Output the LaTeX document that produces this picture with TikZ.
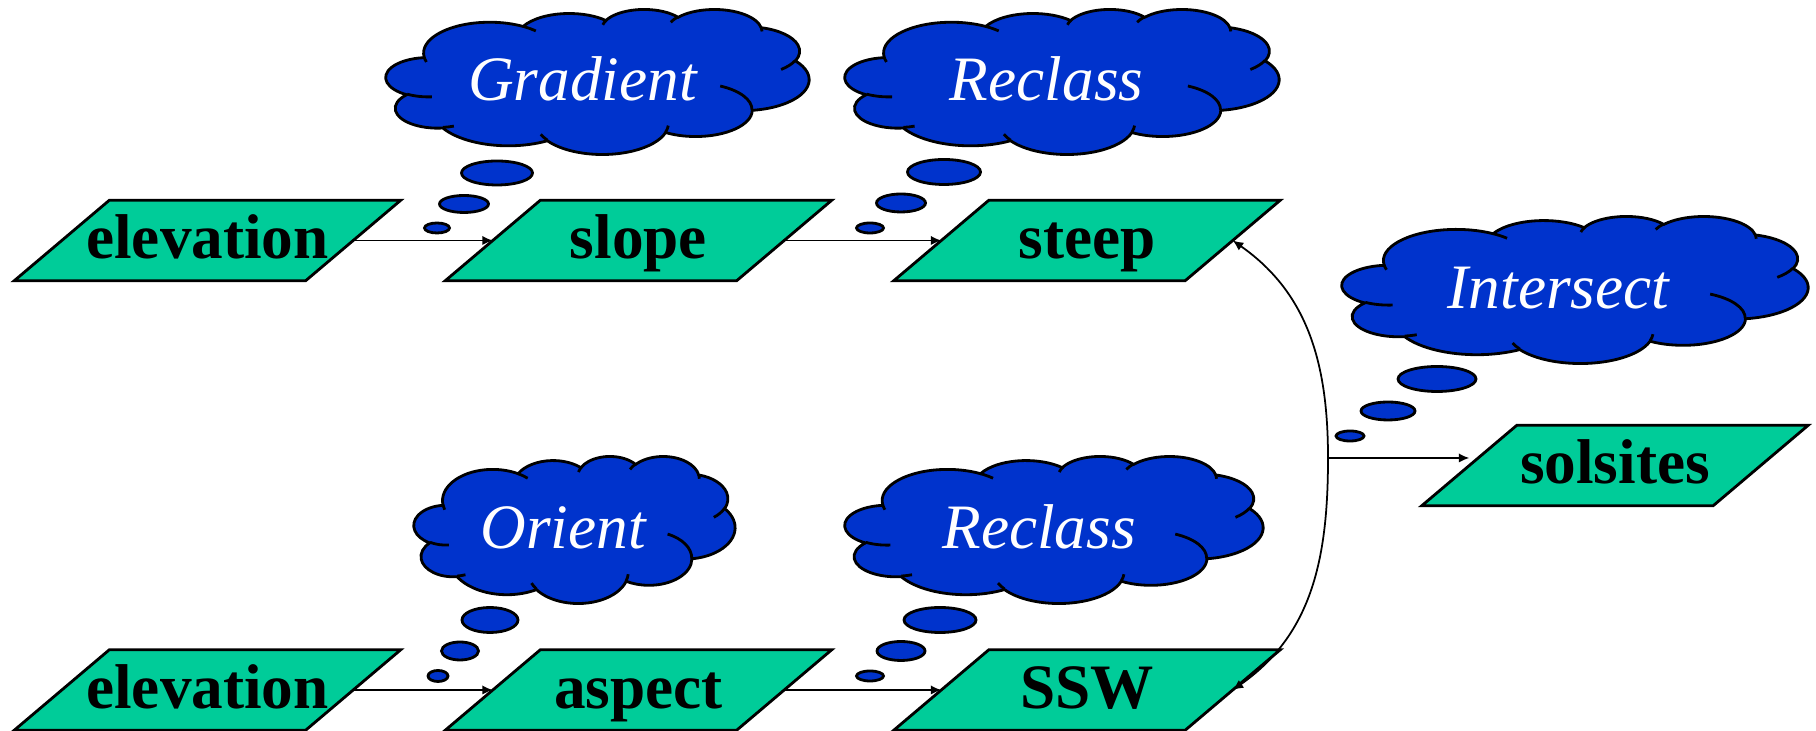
\documentclass[tikz,border=0pt]{standalone}
\usepackage{fontspec}
\setmainfont{Liberation Serif}
\usetikzlibrary{arrows.meta,backgrounds,calc}
\definecolor{vertcouche}{RGB}{0,204,153}
\definecolor{bleunuage}{RGB}{0,51,204}

% arc d'ellipse donne par angles visuels (rx, ry, depart, balayage)
\tikzset{
	arcoo/.style n args={4}{insert path={arc[x radius=#1,y radius=#2,
		start angle={atan2(#1*sin(#3),#2*cos(#3))},
		delta angle={mod(atan2(#1*sin(#3+#4),#2*cos(#3+#4))-atan2(#1*sin(#3),#2*cos(#3))+720,360)}]}},
	pics/nuage/.style n args={3}{code={
		\begin{scope}[shift={({-#1/2},{#2/2})},x={#1cm/432},y={-#2cm/432}]
			\draw[line width=0.8pt,fill=bleunuage] (39.00,143.70)
				[arcoo={67.53}{91.90}{-190.48748}{123.78053}]
				[arcoo={53.33}{72.67}{-144.10238}{89.94523}]
				[arcoo={43.65}{59.45}{-145.80792}{99.72302}]
				[arcoo={48.57}{65.95}{-130.98607}{117.24173}]
				[arcoo={53.33}{72.73}{-78.70888}{109.02692}]
				[arcoo={67.75}{92.20}{-46.26725}{130.26900}]
				[arcoo={57.85}{78.67}{0.62502}{114.03333}]
				[arcoo={67.52}{92.15}{22.45160}{115.17255}]
				[arcoo={77.20}{105.43}{66.24263}{75.71102}]
				[arcoo={43.60}{59.18}{-274.94208}{146.73557}]
				[arcoo={43.45}{59.45}{-246.82850}{152.51885}] -- cycle;
			\draw[line width=0.8pt]
				(46.93,261.77) [arcoo={43.45}{59.45}{86.74200}{26.42950}]
				(69.28,348.99) [arcoo={43.60}{59.18}{73.61047}{11.44747}]
				(164.78,390.90) [arcoo={67.52}{92.15}{137.62415}{14.08110}]
				(288.27,347.51) [arcoo={67.52}{92.15}{6.45327}{15.99835}]
				(341.29,229.54) [arcoo={57.85}{78.67}{-70.29235}{70.91737}]
				(417.98,153.54) [arcoo={53.33}{72.73}{30.31803}{27.75150}]
				(383.24,54.26) [arcoo={48.57}{65.95}{-13.74433}{14.85890}]
				(290.78,39.52) [arcoo={48.57}{65.95}{-149.18145}{18.19537}]
				(221.41,47.20) [arcoo={43.65}{59.45}{-163.49427}{17.68635}]
				(140.00,51.92) [arcoo={67.53}{91.90}{-66.70695}{12.31935}]
				(41.27,157.89) [arcoo={67.53}{91.90}{157.65435}{11.85817}];
		\end{scope}
		\node[nuagetexte] (-texte) at ({-0.0355*#1},0) {#3};
	}}
}

\begin{document}
\begin{tikzpicture}[>={Latex[length=3pt,width=2.7pt]},
		couche/.style={minimum width=2.9cm,minimum height=0.79cm,inner sep=0pt,
			text height=10.5pt,text depth=0pt,font=\fontsize{18}{20}\selectfont\bfseries},
		nuagetexte/.style={text=white,inner sep=0pt,text height=11pt,text depth=0pt,
			font=\fontsize{18}{20}\selectfont\itshape},
		bulle/.style={draw,line width=0.8pt,fill=bleunuage}]
		\useasboundingbox (0,0) rectangle (18.16,7.31);

		% Couches
		\node[couche] (elev1) at (2.075,4.905) {elevation};
		\node[couche] (slope) at (6.385,4.905) {slope};
		\node[couche] (steep) at (10.87,4.905) {steep};
		\node[couche] (elev2) at (2.075,0.41) {elevation};
		\node[couche] (aspect) at (6.385,0.41) {aspect};
		\node[couche] (ssw) at (10.87,0.41) {SSW};
		\node[couche] (sol) at (16.15,2.655) {solsites};

		\begin{scope}[on background layer]
		\foreach \n in {elev1,slope,steep,elev2,aspect,ssw,sol}{
			\draw[line width=0.8pt,fill=vertcouche] ($(\n.south west)+(-0.475,0)$) -- ($(\n.south east)+(-0.475,0)$)
				-- ($(\n.north east)+(0.475,0)$) -- ($(\n.north west)+(0.475,0)$) -- cycle;
			}
		\end{scope}

		% Operations
		\pic (grad) at (5.975,6.495) {nuage={4.23}{1.45}{Gradient}};
		\pic (recl1) at (10.62,6.495) {nuage={4.34}{1.45}{Reclass}};
		\pic (inter) at (15.75,4.415) {nuage={4.66}{1.47}{Intersect}};
		\pic (orient) at (5.745,2.015) {nuage={3.21}{1.47}{Orient}};
		\pic (recl2) at (10.54,2.015) {nuage={4.18}{1.47}{Reclass}};

		% Bulles
		\foreach \x/\y/\rx/\ry in {4.97/5.58/0.355/0.12, 4.64/5.27/0.245/0.085, 4.37/5.03/0.125/0.05,
			9.44/5.59/0.365/0.125, 9.01/5.28/0.245/0.09, 8.70/5.03/0.135/0.05,
			14.37/3.52/0.39/0.125, 13.88/3.20/0.27/0.09, 13.50/2.95/0.14/0.05,
			4.90/1.11/0.28/0.125, 4.60/0.80/0.185/0.09, 4.38/0.55/0.10/0.055,
			9.40/1.11/0.36/0.125, 9.01/0.80/0.24/0.095, 8.70/0.55/0.135/0.05}{
			\draw[bulle] (\x,\y) ellipse (\rx cm and \ry cm);
			}

		% Fleches
		\foreach \a/\b in {elev1/slope,slope/steep,elev2/aspect,aspect/ssw}{
			\draw[->,line width=0.5pt] (\a.east) -- (\b.west);
			}
		\coordinate (jonction) at (13.28,2.73);
		\draw[<->,line width=0.5pt] (steep.east) to[out=-35,in=90] (jonction) to[out=-90,in=35] (ssw.east);
		\draw[->,line width=0.5pt] (jonction) -- (jonction -| sol.west);
	\end{tikzpicture}
\end{document}
